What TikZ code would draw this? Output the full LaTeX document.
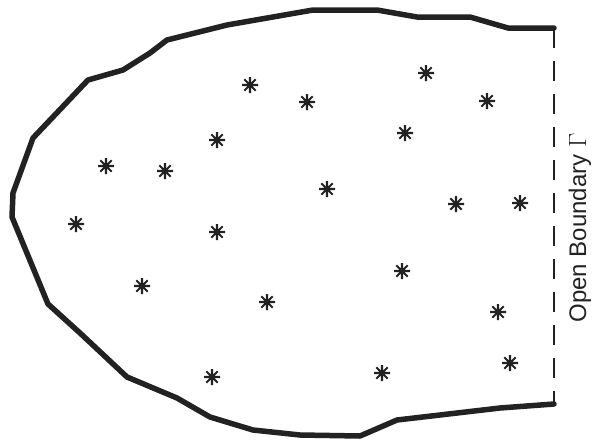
\documentclass[tikz,border=0pt]{standalone}
\usepackage{fontspec}
\setmainfont{Liberation Sans}
\definecolor{ink}{HTML}{222222}
\tikzset{
  wall/.style={draw=ink, line width=5.5pt, line join=round, line cap=round},
  openb/.style={draw=ink, line width=1.8pt, dash pattern=on 20pt off 13pt},
  spark/.pic={
    \draw[ink, line width=2.1pt] (-8,0) -- (8,0) (0,-8) -- (0,8)
      (-5.7,-5.7) -- (5.7,5.7) (-5.7,5.7) -- (5.7,-5.7);
    \fill[ink] (0,0) circle (3.2);
  },
  lbl/.style={font=\fontsize{24}{28}\selectfont, text=ink, rotate=90, inner sep=0pt}
}
\begin{document}
\begin{tikzpicture}[x=1pt, y=-1pt]
\useasboundingbox (0,0) rectangle (598,445);
\coordinate (tr) at (554,28);
\coordinate (br) at (554,404);
\draw[wall] (tr) -- (508,28) -- (470,17) -- (417,17) -- (377,10) -- (313,10)
  -- (227,25) -- (167,40) -- (150,53) -- (123,70) -- (88,80) -- (33,138)
  -- (13,193) -- (12,217) -- (48,304) -- (80,333) -- (127,377) -- (177,398)
  -- (210,417) -- (253,430) -- (300,435) -- (360,436) -- (397,420)
  -- (500,408) -- (br);
\draw[openb] (tr) -- (br);
\node[lbl] (gamma) at (580,228) {Open Boundary $\Gamma$};
\foreach \p in {(250,85),(307,102),(426,73),(487,101),(217,140),(405,133),
  (106,166),(165,171),(327,189),(456,204),(520,203),(76,224),(217,232),
  (402,271),(142,286),(267,302),(498,312),(212,377),(382,373),(510,363)}
  \pic at \p {spark};
\end{tikzpicture}
\end{document}
